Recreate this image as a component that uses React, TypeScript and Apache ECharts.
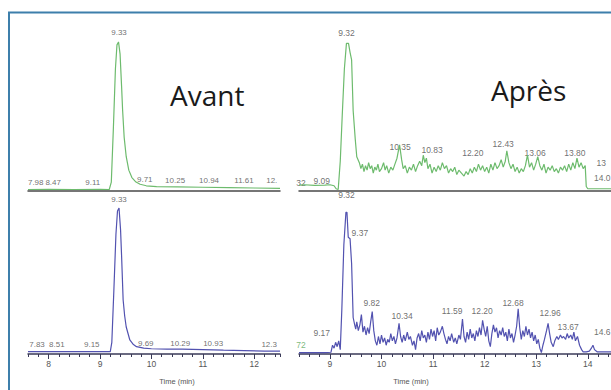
import React, { useEffect, useRef } from 'react';
import * as echarts from 'echarts';

// Tick labels of the time axes (min)
const leftTicks = [8, 9, 10, 11, 12];
const rightTicks = [9, 10, 11, 12, 13, 14];

// "Avant" – top (green) trace: [time (min), relative intensity]
const avantGreen: [number, number][] = [
  [7.6, 1], [8.0, 1.1], [8.5, 1], [9.0, 1.1], [9.18, 1], [9.22, 6], [9.26, 42], [9.3, 82],
  [9.33, 98], [9.36, 100], [9.39, 92], [9.42, 70], [9.44, 54], [9.47, 36], [9.51, 23], [9.56, 14],
  [9.62, 9], [9.7, 6], [9.78, 4.5], [9.9, 3.5], [10.1, 3], [10.5, 2.8], [11.0, 2.5], [11.5, 2.2],
  [12.0, 2], [12.5, 1.8],
];

// "Avant" – bottom (blue) trace
const avantBlue: [number, number][] = [
  [7.6, 1.6], [8.0, 1.6], [8.5, 1.7], [9.0, 1.6], [9.2, 1.6], [9.23, 8], [9.27, 44], [9.31, 82],
  [9.34, 98], [9.37, 100], [9.4, 85], [9.42, 67], [9.45, 37], [9.48, 26], [9.51, 18.5], [9.58, 9.6],
  [9.65, 6.5], [9.71, 5], [9.85, 4], [10.0, 3.6], [10.3, 3.4], [10.6, 3.3], [11.0, 3], [11.4, 2.6],
  [11.8, 2.3], [12.2, 2], [12.5, 2],
];

// "Après" – top (green) trace
const apresGreen: [number, number][] = [
  [8.4, 4], [8.5, 4.2], [8.7, 3.8], [8.9, 4], [9.0, 4.2], [9.08, 3.5], [9.12, 1.5], [9.16, 1],
  [9.2, 20], [9.24, 52], [9.28, 82], [9.32, 99], [9.36, 99], [9.39, 93], [9.42, 88], [9.45, 54],
  [9.49, 35], [9.52, 23], [9.57, 19], [9.6, 15], [9.63, 18], [9.66, 13], [9.69, 17], [9.72, 14],
  [9.75, 19], [9.78, 15], [9.81, 17], [9.84, 12], [9.87, 16], [9.9, 14], [9.93, 18], [9.96, 13],
  [10.0, 15], [10.04, 19], [10.07, 14], [10.1, 17], [10.14, 12], [10.18, 16], [10.22, 14], [10.26, 18],
  [10.3, 22], [10.35, 31], [10.39, 21], [10.42, 15], [10.46, 17], [10.5, 12], [10.54, 16], [10.58, 14],
  [10.62, 18], [10.66, 13], [10.7, 17], [10.74, 20], [10.78, 17], [10.81, 24], [10.84, 19], [10.87, 22],
  [10.9, 15], [10.94, 18], [10.98, 12], [11.02, 16], [11.06, 13], [11.1, 17], [11.14, 14], [11.18, 19],
  [11.22, 15], [11.26, 17], [11.3, 12], [11.34, 15], [11.38, 13], [11.42, 16], [11.46, 11], [11.5, 14],
  [11.55, 12], [11.6, 10], [11.64, 13], [11.68, 11], [11.72, 15], [11.76, 12], [11.8, 16], [11.84, 13],
  [11.88, 18], [11.92, 14], [11.96, 17], [12.0, 13], [12.04, 16], [12.08, 12], [12.12, 18], [12.16, 14],
  [12.2, 19], [12.24, 15], [12.28, 17], [12.32, 21], [12.36, 16], [12.4, 20], [12.43, 27], [12.47, 19],
  [12.51, 15], [12.55, 18], [12.59, 13], [12.63, 16], [12.67, 12], [12.71, 15], [12.75, 13], [12.79, 17],
  [12.83, 24], [12.87, 16], [12.91, 19], [12.95, 14], [12.99, 18], [13.03, 23], [13.07, 17], [13.11, 14],
  [13.15, 18], [13.19, 12], [13.23, 16], [13.27, 14], [13.31, 17], [13.35, 13], [13.39, 15], [13.43, 12],
  [13.47, 16], [13.51, 14], [13.55, 17], [13.59, 13], [13.63, 18], [13.67, 14], [13.71, 19], [13.75, 15],
  [13.79, 22], [13.83, 16], [13.87, 19], [13.91, 15], [13.95, 17], [13.97, 3], [14.0, 1.5], [14.45, 1.5],
];

// "Après" – bottom (blue) trace
const apresBlue: [number, number][] = [
  [8.4, 1], [8.6, 1], [8.9, 1], [9.02, 1.2], [9.05, 6], [9.08, 4], [9.11, 8], [9.14, 5], [9.17, 9],
  [9.2, 3], [9.23, 30], [9.27, 75], [9.31, 97], [9.33, 97], [9.355, 80], [9.39, 79], [9.42, 62],
  [9.45, 25], [9.48, 20], [9.5, 17], [9.52, 22], [9.55, 16], [9.58, 20], [9.61, 27], [9.64, 15],
  [9.67, 19], [9.7, 13], [9.73, 18], [9.76, 14], [9.79, 22], [9.82, 29], [9.85, 16], [9.88, 9],
  [9.91, 6], [9.94, 12], [9.97, 7], [10.0, 13], [10.03, 8], [10.06, 11], [10.09, 6], [10.12, 10],
  [10.15, 8], [10.18, 14], [10.21, 9], [10.24, 12], [10.27, 7], [10.3, 11], [10.34, 21], [10.37, 12],
  [10.4, 8], [10.43, 13], [10.46, 9], [10.5, 15], [10.53, 10], [10.56, 12], [10.6, 6], [10.63, 9],
  [10.66, 3], [10.69, 11], [10.72, 14], [10.75, 9], [10.78, 16], [10.81, 11], [10.84, 13], [10.87, 8],
  [10.9, 15], [10.93, 10], [10.96, 17], [10.99, 12], [11.02, 16], [11.05, 9], [11.08, 18], [11.11, 13],
  [11.14, 15], [11.18, 19], [11.21, 14], [11.24, 10], [11.27, 7], [11.3, 12], [11.33, 9], [11.36, 14],
  [11.4, 8], [11.43, 11], [11.46, 7], [11.5, 13], [11.53, 10], [11.57, 24], [11.6, 12], [11.63, 8],
  [11.66, 15], [11.69, 10], [11.72, 17], [11.75, 11], [11.78, 14], [11.81, 9], [11.84, 16], [11.87, 12],
  [11.9, 18], [11.93, 13], [11.96, 23], [11.99, 17], [12.02, 12], [12.05, 19], [12.08, 9], [12.11, 5],
  [12.14, 14], [12.17, 20], [12.2, 15], [12.23, 18], [12.26, 11], [12.29, 16], [12.32, 13], [12.35, 18],
  [12.38, 12], [12.41, 15], [12.44, 9], [12.47, 17], [12.5, 11], [12.53, 14], [12.56, 8], [12.59, 13],
  [12.62, 19], [12.65, 31], [12.68, 18], [12.71, 10], [12.74, 16], [12.77, 12], [12.8, 19], [12.83, 13],
  [12.86, 17], [12.89, 11], [12.92, 15], [12.95, 9], [12.98, 13], [13.01, 7], [13.04, 10], [13.07, 4],
  [13.1, 1], [13.13, 6], [13.16, 10], [13.2, 16], [13.23, 21], [13.26, 14], [13.29, 8], [13.33, 5],
  [13.36, 9], [13.4, 12], [13.43, 10], [13.47, 13], [13.5, 11], [13.53, 12], [13.57, 10], [13.6, 14],
  [13.63, 11], [13.67, 13], [13.7, 10], [13.73, 15], [13.76, 9], [13.8, 12], [13.84, 6], [13.88, 3],
  [13.91, 1.5], [13.97, 1.5], [14.03, 2], [14.07, 4], [14.1, 6], [14.13, 3], [14.18, 1.5], [14.45, 1.5],
];

// Peak annotations: [text, time, intensity]
type Lbl = [string, number, number];
const avantGreenLabels: Lbl[] = [
  ['9.33', 9.37, 106], ['7.98', 7.75, 6], ['8.47', 8.09, 6], ['9.11', 8.86, 6], ['9.71', 9.87, 7.4],
  ['10.25', 10.46, 7], ['10.94', 11.12, 7], ['11.61', 11.8, 7], ['12.', 12.34, 7],
];
const avantBlueLabels: Lbl[] = [
  ['9.33', 9.37, 105.5], ['7.83', 7.775, 6.2], ['8.51', 8.16, 6.2], ['9.15', 8.84, 6.2],
  ['9.69', 9.89, 7.5], ['10.29', 10.56, 7.5], ['10.93', 11.2, 7.5], ['12.3', 12.29, 6.2],
];
const apresGreenLabels: Lbl[] = [
  ['9.32', 9.32, 106], ['32', 8.44, 5.4], ['9.09', 8.84, 6.7], ['10.35', 10.36, 29.5],
  ['10.83', 10.98, 27.5], ['12.20', 11.77, 25.5], ['12.43', 12.36, 31.5], ['13.06', 12.98, 25.5],
  ['13.80', 13.75, 25.5], ['13', 14.26, 18.8], ['14.0', 14.28, 8.7],
];
const apresBlueLabels: Lbl[] = [
  ['9.32', 9.32, 109], ['9.37', 9.58, 83], ['9.82', 9.81, 35], ['10.34', 10.4, 26],
  ['11.59', 11.37, 29.5], ['12.20', 11.95, 29.5], ['12.68', 12.55, 35], ['12.96', 13.27, 28],
  ['13.67', 13.62, 18.5], ['14.6', 14.28, 15], ['9.17', 8.84, 14.4],
];
const apresBlueGreenLabels: Lbl[] = [['72', 8.44, 6.2]];

const GREEN = '#6dbb6d';
const BLUE = '#5252b0';
const LABEL = '#4a4a4a';

function traceSeries(idx: number, data: [number, number][], color: string) {
  return {
    type: 'line',
    xAxisIndex: idx,
    yAxisIndex: idx,
    data,
    showSymbol: false,
    symbol: 'none',
    lineStyle: { color, width: 1.2 },
    silent: true,
  };
}

function labelSeries(idx: number, labels: Lbl[], fontSize: number, color: string) {
  return {
    type: 'scatter',
    xAxisIndex: idx,
    yAxisIndex: idx,
    symbolSize: 0,
    clip: false,
    silent: true,
    itemStyle: { color: 'rgba(0,0,0,0)' },
    data: labels.map(([t, x, y]) => ({ name: t, value: [x, y] })),
    label: {
      show: true,
      position: 'inside',
      formatter: '{b}',
      fontSize,
      color,
      fontFamily: 'Liberation Sans, Arial, sans-serif',
    },
  };
}

const topAxis = (grid: number, min: number, max: number) => ({
  type: 'value', gridIndex: grid, min, max, position: 'bottom',
  axisLine: { show: true, lineStyle: { color: '#4a4a4a', width: 1.5 } },
  axisTick: { show: false }, axisLabel: { show: false }, splitLine: { show: false },
});

const bottomMinorAxis = (grid: number, min: number, max: number) => ({
  type: 'value', gridIndex: grid, min, max, interval: 0.2, position: 'bottom',
  axisLine: { show: true, lineStyle: { color: '#3a3a58', width: 1.5 } },
  axisTick: { show: true, length: 3, lineStyle: { color: '#3a3a58', width: 1 } },
  axisLabel: { show: false }, splitLine: { show: false },
});

const bottomMajorAxis = (grid: number, min: number, max: number, ticks: number[]) => ({
  type: 'value', gridIndex: grid, min, max, position: 'bottom', offset: 0,
  axisLine: { show: false },
  axisTick: { show: true, length: 5, customValues: ticks, lineStyle: { color: '#3a3a58', width: 1 } },
  axisLabel: {
    show: true, customValues: ticks, fontSize: 8.5, color: '#555', margin: 5,
    fontFamily: 'Liberation Sans, Arial, sans-serif',
  },
  splitLine: { show: false },
});

export default function App() {
  const ref = useRef<HTMLDivElement>(null);
  useEffect(() => {
    if (!ref.current) return;
    const chart = echarts.init(ref.current, undefined, { renderer: 'svg' });
    const L = { left: 28, width: 252 };
    const R = { left: 299, width: 312 };
    const T = { top: 27, height: 164 };
    const B = { top: 193.4, height: 160.6 };
    chart.setOption({
      animation: false,
      backgroundColor: '#ffffff',
      grid: [
        { ...L, ...T },
        { ...R, ...T },
        { ...L, ...B },
        { ...R, ...B },
      ],
      xAxis: [
        topAxis(0, 7.6, 12.5),
        topAxis(1, 8.4, 14.45),
        bottomMinorAxis(2, 7.6, 12.5),
        bottomMinorAxis(3, 8.4, 14.45),
        bottomMajorAxis(2, 7.6, 12.5, leftTicks),
        bottomMajorAxis(3, 8.4, 14.45, rightTicks),
      ],
      yAxis: [0, 1, 2, 3].map((g) => ({ type: 'value', gridIndex: g, min: 0, max: 110, show: false })),
      series: [
        traceSeries(0, avantGreen, GREEN),
        traceSeries(1, apresGreen, GREEN),
        traceSeries(2, avantBlue, BLUE),
        traceSeries(3, apresBlue, BLUE),
        labelSeries(0, avantGreenLabels, 8, LABEL),
        labelSeries(1, apresGreenLabels, 8.5, LABEL),
        labelSeries(2, avantBlueLabels, 8, LABEL),
        labelSeries(3, apresBlueLabels, 8.5, LABEL),
        labelSeries(3, apresBlueGreenLabels, 8.5, '#5aa85a'),
      ],
      graphic: [
        {
          type: 'rect', silent: true,
          shape: { x: 9, y: 12.5, width: 700, height: 500 },
          style: { fill: 'none', stroke: '#3d7fab', lineWidth: 2 },
        },
        {
          type: 'text', silent: true, x: 170, y: 95,
          style: { text: 'Avant', font: '28px "Open Sans", sans-serif', fill: '#1a1a1a', align: 'left', verticalAlign: 'middle' },
        },
        {
          type: 'text', silent: true, x: 491, y: 90,
          style: { text: 'Après', font: '28px "Open Sans", sans-serif', fill: '#1a1a1a', align: 'left', verticalAlign: 'middle' },
        },
        {
          type: 'text', silent: true, x: 177, y: 381,
          style: { text: 'Time (min)', fontSize: 7.5, fontFamily: 'Liberation Sans, Arial, sans-serif', fill: '#555555', align: 'center', verticalAlign: 'middle' },
        },
        {
          type: 'text', silent: true, x: 411, y: 381,
          style: { text: 'Time (min)', fontSize: 7.5, fontFamily: 'Liberation Sans, Arial, sans-serif', fill: '#555555', align: 'center', verticalAlign: 'middle' },
        },
      ],
    });
    return () => chart.dispose();
  }, []);
  return (
    <div
      ref={ref}
      style={{ position: 'fixed', left: 0, top: 0, width: 611, height: 390 }}
    />
  );
}
